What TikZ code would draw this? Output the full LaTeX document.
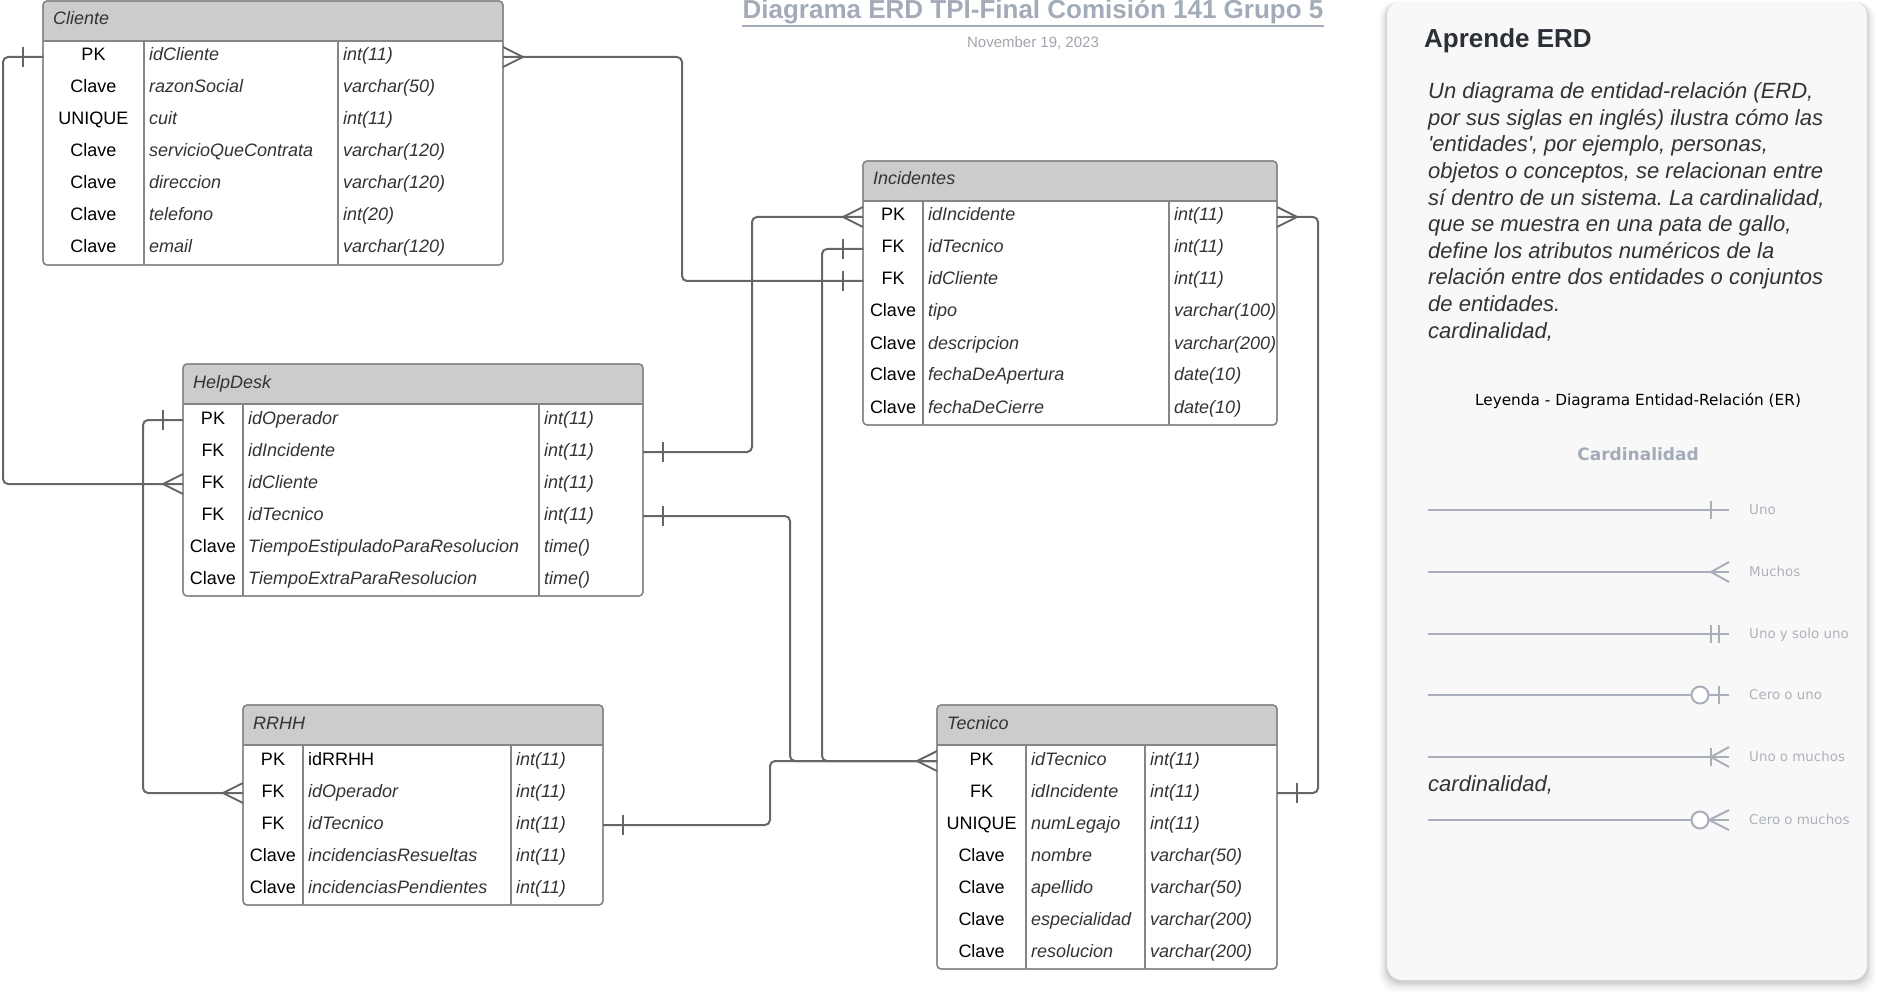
\documentclass[tikz,border=0pt]{standalone}
\usepackage{fontspec}
\setmainfont{Liberation Sans}
\newfontfamily\plainsans{Liberation Sans}
\newfontfamily\dejavu{DejaVu Sans}
\usetikzlibrary{calc}
\frenchspacing
\definecolor{tblborder}{HTML}{858585}
\definecolor{headfill}{HTML}{CCCCCC}
\definecolor{conncol}{HTML}{666666}
\definecolor{titlecol}{HTML}{A3ABB8}
\definecolor{datecol}{HTML}{A0A4AB}
\definecolor{txtdark}{HTML}{333333}
\definecolor{panelfill}{HTML}{F8F8F8}
\definecolor{legline}{HTML}{A8AFBB}
\definecolor{leglabel}{HTML}{ADB2BB}
\definecolor{aprende}{HTML}{2B2F36}

\tikzset{
  tbl/.style={draw=tblborder, line width=1.3pt, rounded corners=4pt, fill=white,
    anchor=north west, inner sep=0pt, outer sep=0pt,
    path picture={\fill[headfill] (path picture bounding box.north west) rectangle ([yshift=-40pt]path picture bounding box.north east);}},
  tblline/.style={draw=tblborder, line width=1.3pt},
  headtext/.style={anchor=west, inner sep=0pt, text height=13pt, text depth=0pt,
    font=\fontsize{18}{20}\selectfont\itshape, text=txtdark},
  keytext/.style={anchor=center, inner sep=0pt, text height=13pt, text depth=0pt,
    font=\fontsize{18}{20}\selectfont, text=black},
  fieldtext/.style={anchor=west, inner sep=0pt, text height=13pt, text depth=0pt,
    font=\fontsize{18}{20}\selectfont\itshape, text=txtdark},
  conn/.style={draw=conncol, line width=2pt, rounded corners=5pt},
  endmark/.style={draw=conncol, line width=2pt},
  leg/.style={draw=legline, line width=2pt},
  leglabel/.style={anchor=west, inner sep=0pt, text height=9.8pt, text depth=0pt,
    font=\dejavu\fontsize{13.4}{15}\selectfont, text=leglabel},
  paratext/.style={anchor=base west, inner sep=0pt,
    font=\plainsans\itshape\fontsize{22}{26}\selectfont, text=txtdark},
}

% #1 name, #2 x0, #3 y0, #4 width, #5 height, #6 div1, #7 div2, #8 title
\newcommand{\erdtable}[8]{%
  \node[tbl, minimum width=#4, minimum height=#5] (#1) at (#2,#3) {};
  \draw[tblline] (#2,#3+40) -- (#2+#4,#3+40);
  \draw[tblline] (#6,#3+40) -- (#6,#3+#5);
  \draw[tblline] (#7,#3+40) -- (#7,#3+#5);
  \draw[tblborder, line width=1.3pt, rounded corners=4pt] (#1.north west) rectangle (#1.south east);
  \node[headtext] (#1-title) at (#2+10,#3+17.5) {#8};
}
% #1 name, #2 y0, #3 key centre x, #4 div1, #5 div2, #6 rows
\newcommand{\erdrows}[6]{%
  \foreach \k/\f/\t [count=\i] in {#6}{
    \pgfmathsetmacro{\ry}{#2+56+32*(\i-1)}
    \node[keytext] (#1-k\i) at (#3,\ry-2.5) {\k};
    \node[fieldtext] (#1-f\i) at (#4+5,\ry-2.5) {\f};
    \node[fieldtext] (#1-t\i) at (#5+5,\ry-2.5) {\t};
  }
}
\newcommand{\crowL}[1]{\draw[endmark] (#1) ++(0,-10) -- ++(-20,10) -- ++(20,10);}
\newcommand{\crowR}[1]{\draw[endmark] (#1) ++(0,-10) -- ++(20,10) -- ++(-20,10);}
\newcommand{\tickL}[1]{\draw[endmark] (#1) ++(-20,-10) -- ++(0,20);}
\newcommand{\tickR}[1]{\draw[endmark] (#1) ++(20,-10) -- ++(0,20);}

\begin{document}
\begin{tikzpicture}[x=1pt, y=-1pt]
\useasboundingbox (0,0) rectangle (1877,1000);

% ---------- title ----------
\node[anchor=base, inner sep=0pt, font=\fontsize{26}{28}\selectfont\bfseries, text=titlecol] (title) at (1033,18.5) {Diagrama ERD TPI-Final Comisión 141 Grupo 5};
\draw[titlecol, line width=2pt] (title.west |- 0,26.5) -- (title.east |- 0,26.5);
\node[anchor=base, inner sep=0pt, font=\fontsize{15}{17}\selectfont, text=datecol] (date) at (1033,48) {November 19, 2023};

% ---------- tables ----------
\erdtable{cli}{43}{1}{460}{264}{144}{338}{Cliente}
\erdrows{cli}{1}{93.5}{144}{338}{PK/idCliente/int(11), Clave/razonSocial/varchar(50), UNIQUE/cuit/int(11), Clave/servicioQueContrata/varchar(120), Clave/direccion/varchar(120), Clave/telefono/int(20), Clave/email/varchar(120)}

\erdtable{inc}{863}{161}{414}{264}{923}{1169}{Incidentes}
\erdrows{inc}{161}{893}{923}{1169}{PK/idIncidente/int(11), FK/idTecnico/int(11), FK/idCliente/int(11), Clave/tipo/varchar(100), Clave/descripcion/varchar(200), Clave/fechaDeApertura/date(10), Clave/fechaDeCierre/date(10)}

\erdtable{hd}{183}{364}{460}{232}{243}{539}{HelpDesk}
\erdrows{hd}{364}{213}{243}{539}{PK/idOperador/int(11), FK/idIncidente/int(11), FK/idCliente/int(11), FK/idTecnico/int(11), Clave/TiempoEstipuladoParaResolucion/time(), Clave/TiempoExtraParaResolucion/time()}

\erdtable{rrhh}{243}{705}{360}{200}{303}{511}{RRHH}
\erdrows{rrhh}{705}{273}{303}{511}{PK/{\upshape\color{black}idRRHH}/int(11), FK/idOperador/int(11), FK/idTecnico/int(11), Clave/incidenciasResueltas/int(11), Clave/incidenciasPendientes/int(11)}

\erdtable{tec}{937}{705}{340}{264}{1026}{1145}{Tecnico}
\erdrows{tec}{705}{981.5}{1026}{1145}{PK/idTecnico/int(11), FK/idIncidente/int(11), UNIQUE/numLegajo/int(11), Clave/nombre/varchar(50), Clave/apellido/varchar(50), Clave/especialidad/varchar(200), Clave/resolucion/varchar(200)}

% ---------- connectors ----------
\coordinate (c1a) at ([yshift=-2.5pt]cli.west |- cli-k1);
\coordinate (c1b) at ([yshift=-2.5pt]hd.west |- hd-k3);
\draw[conn] (c1a) -- ++(-40,0) |- (c1b);
\tickL{c1a} \crowL{c1b}

\coordinate (c2a) at ([yshift=-2.5pt]cli.east |- cli-k1);
\coordinate (c2b) at ([yshift=-2.5pt]inc.west |- inc-k3);
\draw[conn] (c2a) -- ++(179,0) |- (c2b);
\crowR{c2a} \tickL{c2b}

\coordinate (c3a) at ([yshift=-2.5pt]hd.east |- hd-k2);
\coordinate (c3b) at ([yshift=-2.5pt]inc.west |- inc-k1);
\draw[conn] (c3a) -- ++(109,0) |- (c3b);
\tickR{c3a} \crowL{c3b}

\coordinate (c4a) at ([yshift=-2.5pt]hd.east |- hd-k4);
\coordinate (c4b) at ([yshift=-2.5pt]tec.west |- tec-k1);
\draw[conn] (c4a) -- ++(147,0) |- (c4b);
\tickR{c4a} \crowL{c4b}

\coordinate (c5a) at ([yshift=-2.5pt]inc.west |- inc-k2);
\draw[conn] (c5a) -- ++(-41,0) |- (c4b);
\tickL{c5a}

\coordinate (c6a) at ([yshift=-2.5pt]rrhh.east |- rrhh-k3);
\draw[conn] (c6a) -- ++(167,0) |- (c4b);
\tickR{c6a}

\coordinate (c7a) at ([yshift=-2.5pt]rrhh.west |- rrhh-k2);
\coordinate (c7b) at ([yshift=-2.5pt]hd.west |- hd-k1);
\draw[conn] (c7a) -- ++(-100,0) |- (c7b);
\crowL{c7a} \tickL{c7b}

\coordinate (c8a) at ([yshift=-2.5pt]tec.east |- tec-k2);
\coordinate (c8b) at ([yshift=-2.5pt]inc.east |- inc-k1);
\draw[conn] (c8a) -- ++(41,0) |- (c8b);
\tickR{c8a} \crowR{c8b}

% ---------- side panel ----------
\foreach \d/\op in {8/0.02, 6/0.03, 4/0.04, 2.5/0.05, 1.2/0.06}{
  \fill[black, opacity=\op, rounded corners=16pt] (1387-\d,1+1) rectangle (1867+\d,980+2+1.3*\d);
}
\node[fill=panelfill, rounded corners=15pt, minimum width=480, minimum height=979, anchor=north west, inner sep=0pt, outer sep=0pt] (panel) at (1387,1) {};

\node[anchor=base west, inner sep=0pt, font=\plainsans\bfseries\fontsize{26}{28}\selectfont, text=aprende] (aprende) at (1424,48) {Aprende ERD};

\foreach \ln [count=\i] in {{Un diagrama de entidad-relación (ERD,}, {por sus siglas en inglés) ilustra cómo las}, {'entidades', por ejemplo, personas,}, {objetos o conceptos, se relacionan entre}, {sí dentro de un sistema. La cardinalidad,}, {que se muestra en una pata de gallo,}, {define los atributos numéricos de la}, {relación entre dos entidades o conjuntos}, {de entidades.}, {cardinalidad,}}{
  \node[paratext] (para\i) at (1428,98.7+26.6*\i-26.6) {\ln};
}

\node[inner sep=0pt, text height=11.5pt, text depth=0pt, font=\dejavu\fontsize{15.3}{17}\selectfont, text=black] (leytitle) at (1638,400) {Leyenda - Diagrama Entidad-Relación (ER)};
\node[inner sep=0pt, text height=12.5pt, text depth=0pt, font=\dejavu\bfseries\fontsize{17}{19}\selectfont, text=titlecol] (cardtitle) at (1638,454) {Cardinalidad};

% Uno
\draw[leg] (1428,510) -- (1729,510);
\draw[leg] (1711,501) -- (1711,519);
\node[leglabel] (l1) at (1749,510) {Uno};
% Muchos
\draw[leg] (1428,572) -- (1729,572);
\draw[leg] (1729,562) -- (1711,572) -- (1729,582);
\node[leglabel] (l2) at (1749,572) {Muchos};
% Uno y solo uno
\draw[leg] (1428,634) -- (1729,634);
\draw[leg] (1711,625) -- (1711,643);
\draw[leg] (1719,625) -- (1719,643);
\node[leglabel] (l3) at (1749,634) {Uno y solo uno};
% Cero o uno
\draw[leg] (1428,695) -- (1729,695);
\draw[leg, fill=white] (1700,695) circle[radius=8.5pt];
\draw[leg] (1719,686) -- (1719,704);
\node[leglabel] (l4) at (1749,695) {Cero o uno};
% Uno o muchos
\draw[leg] (1428,757) -- (1729,757);
\draw[leg] (1711,748) -- (1711,766);
\draw[leg] (1729,747) -- (1711,757) -- (1729,767);
\node[leglabel] (l5) at (1749,757) {Uno o muchos};

\node[paratext] (card2) at (1428,791.5) {cardinalidad,};

% Cero o muchos
\draw[leg] (1428,820) -- (1729,820);
\draw[leg, fill=white] (1700,820) circle[radius=8.5pt];
\draw[leg] (1729,810) -- (1709,820) -- (1729,830);
\node[leglabel] (l6) at (1749,820) {Cero o muchos};

\end{tikzpicture}
\end{document}
